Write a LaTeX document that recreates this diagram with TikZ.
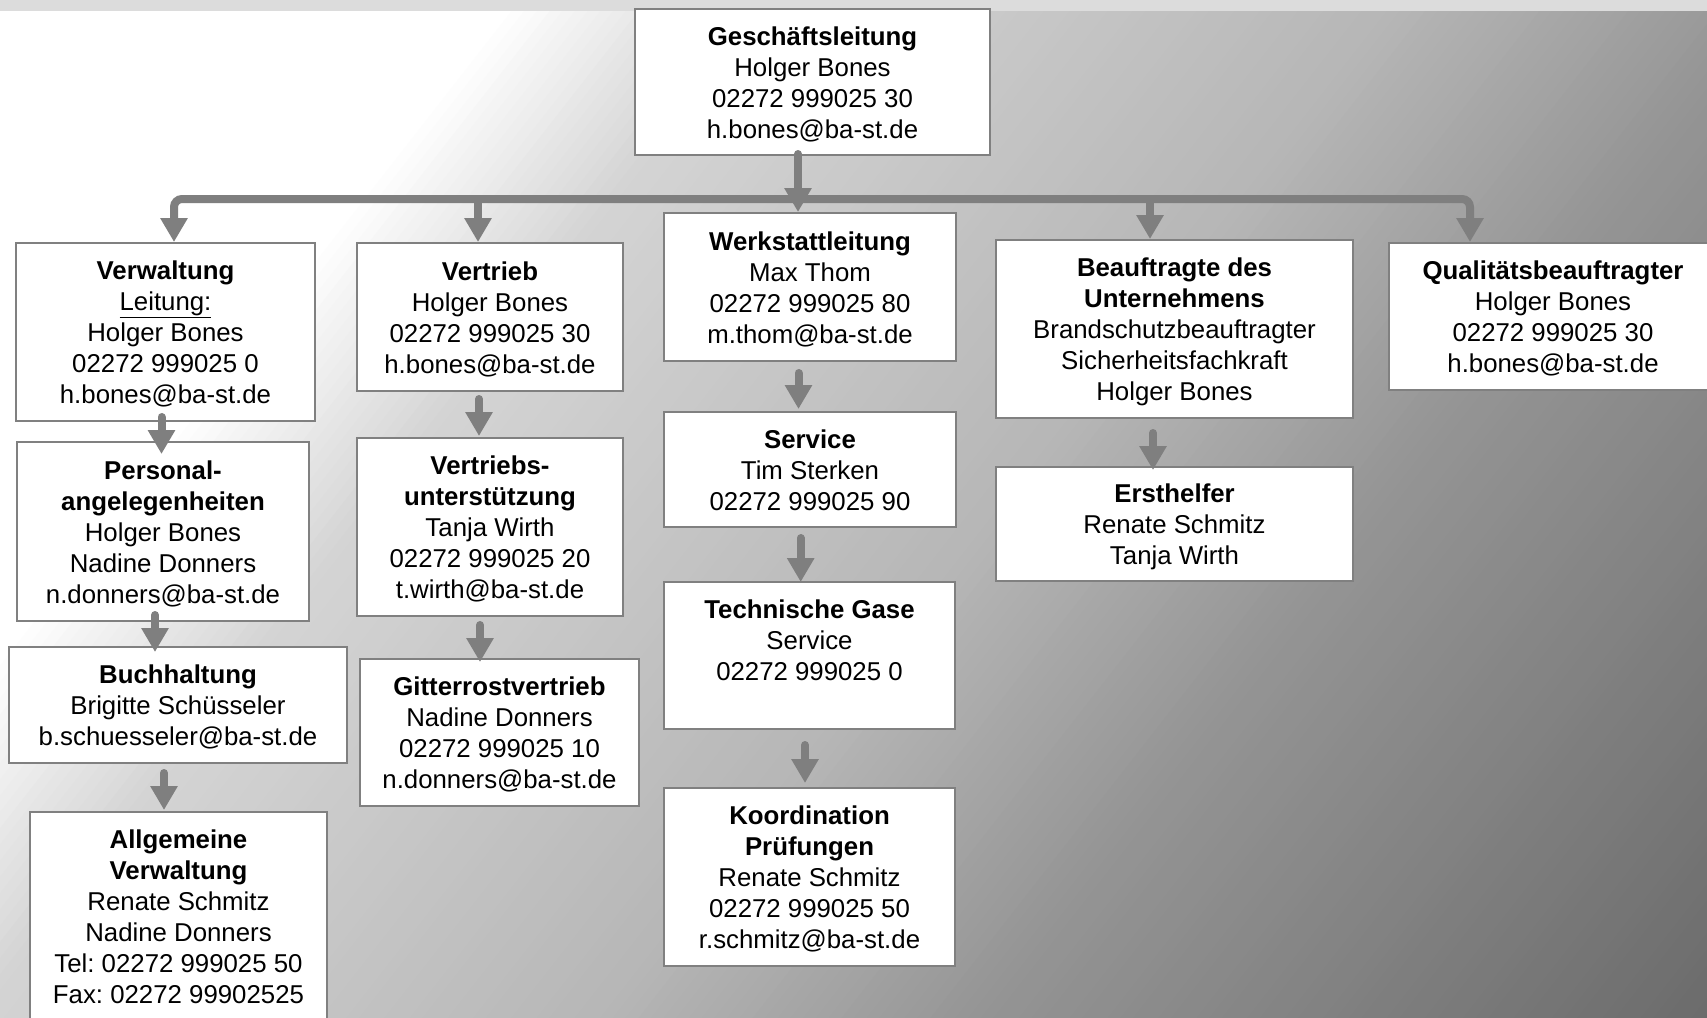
\documentclass[tikz,border=0pt]{standalone}
\usepackage{fontspec}
\setmainfont{Liberation Sans}
\usetikzlibrary{arrows.meta}
\definecolor{boxgray}{HTML}{808080}
\definecolor{arrgray}{HTML}{7F7F7F}
\definecolor{bargray}{HTML}{DCDCDC}
\newcommand\ls{\rule[-5.9pt]{0pt}{31pt}}
\frenchspacing
\tikzset{
  box/.style={draw=boxgray, line width=2pt, fill=white, inner sep=0pt, align=center,
    font=\fontsize{25.8pt}{31pt}\selectfont},
  arr/.style={draw=arrgray, line width=8pt, line cap=round, -{Triangle[width=26pt,length=24pt]}},
  busline/.style={draw=arrgray, line width=8pt, rounded corners=8pt,
    {Triangle[width=26pt,length=24pt]}-{Triangle[width=26pt,length=24pt]}}
}
\begin{document}
\begin{tikzpicture}[x=1pt,y=-1pt]
\useasboundingbox (0,0) rectangle (1707,1017);
% background gradient
\begin{scope}
\clip (0,0) rectangle (1707,1017);
\fill[white] (0,0) rectangle (1707,1017);
\pgfmathsetmacro\cc{cos(38)}
\pgfmathsetmacro\ss{sin(38)}
\foreach \t in {300,310,...,2000} {
  \pgfmathsetmacro\v{255 - 0.215*min(max(\t-400,0),200) - 0.06*min(max(\t-600,0),500) - 0.1133*min(max(\t-1100,0),300) - 0.0714*min(max(\t-1400,0),600)}
  \pgfmathsetmacro\g{\v/255}
  \definecolor{sc}{gray}{\g}
  \pgfmathsetmacro\ta{\t}
  \pgfmathsetmacro\tb{\t+12}
  \fill[sc] ({\ta*\cc-2500*\ss},{\ta*\ss+2500*\cc}) -- ({\ta*\cc+2500*\ss},{\ta*\ss-2500*\cc})
     -- ({\tb*\cc+2500*\ss},{\tb*\ss-2500*\cc}) -- ({\tb*\cc-2500*\ss},{\tb*\ss+2500*\cc}) -- cycle;
}
\end{scope}
\fill[bargray] (0,0) rectangle (1707,11);

% boxes
\node[box, minimum width=355pt, minimum height=146pt] (gl) at (812.5,82)
  {\ls\textbf{Geschäftsleitung}\\Holger Bones\\02272 999025 30\\h.bones@ba-st.de\ls};
\node[box, minimum width=299pt, minimum height=178pt] (vw) at (165.5,332)
  {\ls\textbf{Verwaltung}\\\underline{Leitung:}\\Holger Bones\\02272 999025 0\\h.bones@ba-st.de\ls};
\node[box, minimum width=266pt, minimum height=148pt] (vt) at (490,317)
  {\ls\textbf{Vertrieb}\\Holger Bones\\02272 999025 30\\h.bones@ba-st.de\ls};
\node[box, minimum width=292.5pt, minimum height=179pt] (pa) at (163,531.5)
  {\ls\textbf{Personal-}\\\textbf{angelegenheiten}\\Holger Bones\\Nadine Donners\\n.donners@ba-st.de\ls};
\node[box, minimum width=266pt, minimum height=178pt] (vu) at (490,527)
  {\ls\textbf{Vertriebs-}\\\textbf{unterstützung}\\Tanja Wirth\\02272 999025 20\\t.wirth@ba-st.de\ls};
\node[box, minimum width=338pt, minimum height=116pt] (bh) at (178,705)
  {\ls\textbf{Buchhaltung}\\Brigitte Schüsseler\\b.schuesseler@ba-st.de\ls};
\node[box, minimum width=279pt, minimum height=147pt] (gr) at (499.5,732.5)
  {\ls\textbf{Gitterrostvertrieb}\\Nadine Donners\\02272 999025 10\\n.donners@ba-st.de\ls};
\node[box, minimum width=297pt, minimum height=209pt] (av) at (178.5,916.5)
  {\ls\textbf{Allgemeine}\\\textbf{Verwaltung}\\Renate Schmitz\\Nadine Donners\\Tel: 02272 999025 50\\Fax: 02272 99902525\ls};
\node[box, minimum width=292pt, minimum height=148pt] (ws) at (810,287)
  {\ls\textbf{Werkstattleitung}\\Max Thom\\02272 999025 80\\m.thom@ba-st.de\ls};
\node[box, minimum width=292pt, minimum height=115pt] (sv) at (810,469.5)
  {\ls\textbf{Service}\\Tim Sterken\\02272 999025 90\ls};
\node[box, minimum width=291pt, minimum height=147pt] (tg) at (809.5,655.5)
  {\ls\textbf{Technische Gase}\\Service\\02272 999025 0\\\ls};
\node[box, minimum width=291pt, minimum height=178pt] (ko) at (809.5,877)
  {\ls\textbf{Koordination}\\\textbf{Prüfungen}\\Renate Schmitz\\02272 999025 50\\r.schmitz@ba-st.de\ls};
\node[box, minimum width=357pt, minimum height=178pt] (bf) at (1174.5,329)
  {\ls\textbf{Beauftragte des}\\\textbf{Unternehmens}\\Brandschutzbeauftragter\\Sicherheitsfachkraft\\Holger Bones\ls};
\node[box, minimum width=357pt, minimum height=114pt] (eh) at (1174.5,524)
  {\ls\textbf{Ersthelfer}\\Renate Schmitz\\Tanja Wirth\ls};
\node[box, minimum width=328pt, minimum height=147pt] (qb) at (1553,316.5)
  {\ls\textbf{Qualitätsbeauftragter}\\Holger Bones\\02272 999025 30\\h.bones@ba-st.de\ls};

% bus
\coordinate (bus) at (798,199);
\coordinate (t_vw) at ([xshift=8.5pt]vw.north);
\coordinate (t_vt) at ([xshift=-12pt]vt.north);
\coordinate (t_bf) at ([xshift=-24.5pt]bf.north);
\coordinate (t_qb) at ([xshift=-83pt]qb.north);
\draw[busline] (t_vw) -- (t_vw |- bus) -- (t_qb |- bus) -- (t_qb);
\draw[arr] (t_vt |- bus) -- (t_vt);
\draw[arr] (t_bf |- bus) -- (t_bf);
\draw[arr] ([xshift=-14.5pt,yshift=2pt]gl.south) -- ([xshift=-12pt]ws.north);

% short arrows
\draw[arr] ([xshift=-4pt,yshift=5pt]vw.south) -- ([xshift=-1.5pt,yshift=-13pt]pa.north);
\draw[arr] ([xshift=-8pt,yshift=7pt]pa.south) -- ([xshift=-23pt,yshift=-6pt]bh.north);
\draw[arr] ([xshift=-14pt,yshift=-9pt]bh.south) -- ([xshift=-14.5pt,yshift=1pt]av.north);
\draw[arr] ([xshift=-11pt,yshift=-7pt]vt.south) -- ([xshift=-11pt,yshift=1pt]vu.north);
\draw[arr] ([xshift=-10pt,yshift=-8pt]vu.south) -- ([xshift=-19.5pt,yshift=-4pt]gr.north);
\draw[arr] ([xshift=-11.5pt,yshift=-11pt]ws.south) -- ([xshift=-11.5pt,yshift=2pt]sv.north);
\draw[arr] ([xshift=-9.3pt,yshift=-10pt]sv.south) -- ([xshift=-8.8pt,yshift=-1pt]tg.north);
\draw[arr] ([xshift=-4.5pt,yshift=-15pt]tg.south) -- ([xshift=-4.5pt,yshift=4pt]ko.north);
\draw[arr] ([xshift=-21.5pt,yshift=-14pt]bf.south) -- ([xshift=-21.5pt,yshift=-4pt]eh.north);
\end{tikzpicture}
\end{document}
